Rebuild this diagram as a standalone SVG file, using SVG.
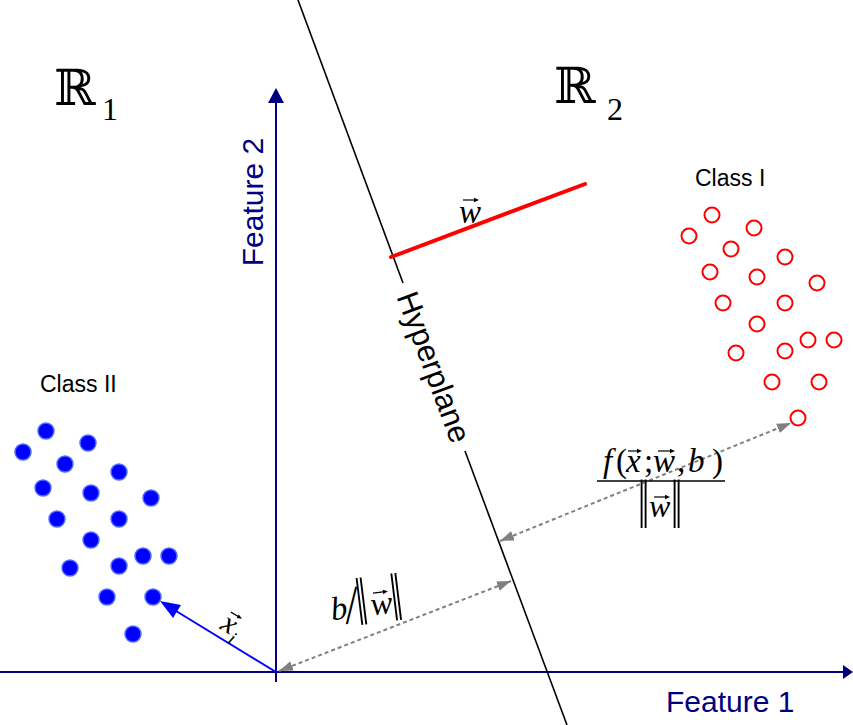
<svg xmlns="http://www.w3.org/2000/svg" width="853" height="725" viewBox="0 0 853 725">
<style>
.ax{stroke:#000080;stroke-width:2;fill:none}
.axh{fill:#000080}
.sans{font-family:"Liberation Sans",Arial,sans-serif}
.feat{font-size:30px;fill:#000080}
.cls{font-size:23px;fill:#000}
.m{font-family:"Liberation Serif","Times New Roman",serif;font-style:italic;font-size:33px;fill:#000}
.mu{font-family:"Liberation Serif","Times New Roman",serif;font-size:33px;fill:#000}
.big{font-size:40px}
.dash{stroke:#808080;stroke-width:2;stroke-dasharray:4 3;fill:none}
.bd{fill:#0000ff;stroke:#4d6bff;stroke-width:1.5}
.rd{fill:none;stroke:#ff0000;stroke-width:2}
.va{stroke:#000;stroke-width:1.2;fill:none}
.vah{fill:#000}
.hyp{stroke:#000;stroke-width:1.6;fill:none}
.ds{font-family:"DejaVu Serif","Noto Sans",serif;font-size:50px;fill:#000}
</style>
<defs>
<marker id="ga" markerUnits="userSpaceOnUse" markerWidth="16" markerHeight="12" refX="14" refY="5" orient="auto-start-reverse">
<path d="M0,0 L14,5 L0,10 z" fill="#808080"/>
</marker>
</defs>

<g id="axes">
<line class="ax" x1="0" y1="672" x2="845" y2="672"/>
<polygon class="axh" points="853,672 843,665 843,679"/>
<line class="ax" x1="276" y1="682" x2="276" y2="96"/>
<polygon class="axh" points="276,88 268,103 284,103"/>
</g>

<g id="labels" class="sans">
<text class="feat" x="666" y="712">Feature 1</text>
<text class="feat" transform="translate(263,202) rotate(-90)" text-anchor="middle">Feature 2</text>
<text class="cls" x="695" y="186">Class I</text>
<text class="cls" x="40" y="392">Class II</text>
</g>

<g id="regions">
<text class="ds" x="54" y="105">ℝ</text>
<text class="mu" style="font-size:32px" x="102" y="120">1</text>
<text class="ds" x="554" y="103">ℝ</text>
<text class="mu" style="font-size:32px" x="607" y="120">2</text>
</g>

<g id="hyperplane">
<line class="hyp" x1="298" y1="0" x2="403" y2="283"/>
<line class="hyp" x1="465" y1="451" x2="567" y2="725"/>
<text class="sans" style="font-size:31px" transform="translate(434,367) rotate(69.6)" text-anchor="middle" dy="0.35em">Hyperplane</text>
</g>

<g id="w-vector">
<line x1="391" y1="257" x2="585" y2="184" stroke="#ff0000" stroke-width="4" stroke-linecap="round"/>
<text class="m" x="459" y="223">w</text>
<path class="va" d="M463,200 h13"/><path class="vah" d="M479,200 l-5,-2.2 v4.4 z"/>
</g>

<g id="connectors">
<line class="dash" x1="279" y1="671" x2="511" y2="581" marker-start="url(#ga)" marker-end="url(#ga)"/>
<line class="dash" x1="500" y1="541" x2="791" y2="423" marker-start="url(#ga)" marker-end="url(#ga)"/>
<line x1="276" y1="672" x2="176" y2="611" stroke="#0000ff" stroke-width="2"/>
<polygon points="160,601 181,605 173,618" fill="#0000ff"/>
</g>

<g id="xi-label" transform="translate(229,625) rotate(31)">
<text class="m" style="font-size:30px" x="-7" y="8">x</text>
<text class="m" style="font-size:19px" x="7" y="16">i</text>
<path class="va" d="M-5,-12 h10"/><path class="vah" d="M8,-12 l-5,-2 v4 z"/>
</g>

<g id="b-label" transform="rotate(-7,335,620)">
<text class="m" x="332" y="620">b</text>
<text class="m big" transform="translate(347,625) scale(1,1.35)">/</text>
<text class="m big" transform="translate(358,628) scale(1,1.7)">‖</text>
<text class="m" x="372" y="620">w</text>
<path class="va" d="M376,598 h12"/><path class="vah" d="M391,598 l-5,-2.2 v4.4 z"/>
<text class="m big" transform="translate(393,628) scale(1,1.7)">‖</text>
</g>

<g id="f-label">
<text class="m" x="603" y="472">f</text>
<text class="mu" x="616" y="472">(</text>
<text class="m" x="626" y="472">x</text>
<path class="va" d="M628,451 h10"/><path class="vah" d="M642,451 l-5,-2.2 v4.4 z"/>
<text class="mu" x="644" y="472">;</text>
<text class="m" x="653" y="472">w</text>
<path class="va" d="M658,451 h13"/><path class="vah" d="M675,451 l-5,-2.2 v4.4 z"/>
<text class="mu" x="677" y="472">,</text>
<text class="m" x="688" y="472">b</text>
<text class="mu" x="712" y="472">)</text>
<line x1="597" y1="481" x2="725" y2="481" stroke="#000" stroke-width="1.5"/>
<text class="mu big" transform="translate(638,528) scale(1,1.75)">‖</text>
<text class="m" style="font-size:32px" x="649" y="517">w</text>
<path class="va" d="M654,497 h12"/><path class="vah" d="M670,497 l-5,-2.2 v4.4 z"/>
<text class="mu big" transform="translate(671,528) scale(1,1.75)">‖</text>
</g>

<g id="class-II">
<circle class="bd" cx="46" cy="431" r="8"/>
<circle class="bd" cx="23" cy="452" r="8"/>
<circle class="bd" cx="88" cy="443" r="8"/>
<circle class="bd" cx="65" cy="464" r="8"/>
<circle class="bd" cx="119" cy="472" r="8"/>
<circle class="bd" cx="43" cy="488" r="8"/>
<circle class="bd" cx="91" cy="493" r="8"/>
<circle class="bd" cx="151" cy="498" r="8"/>
<circle class="bd" cx="57" cy="519" r="8"/>
<circle class="bd" cx="119" cy="519" r="8"/>
<circle class="bd" cx="91" cy="540" r="8"/>
<circle class="bd" cx="143" cy="556" r="8"/>
<circle class="bd" cx="169" cy="556" r="8"/>
<circle class="bd" cx="70" cy="568" r="8"/>
<circle class="bd" cx="119" cy="566" r="8"/>
<circle class="bd" cx="107" cy="597" r="8"/>
<circle class="bd" cx="153" cy="597" r="8"/>
<circle class="bd" cx="133" cy="634" r="8"/>
</g>

<g id="class-I">
<circle class="rd" cx="712" cy="215" r="7.5"/>
<circle class="rd" cx="689" cy="236" r="7.5"/>
<circle class="rd" cx="754" cy="228" r="7.5"/>
<circle class="rd" cx="731" cy="249" r="7.5"/>
<circle class="rd" cx="785" cy="257" r="7.5"/>
<circle class="rd" cx="710" cy="272" r="7.5"/>
<circle class="rd" cx="757" cy="277" r="7.5"/>
<circle class="rd" cx="817" cy="283" r="7.5"/>
<circle class="rd" cx="723" cy="303" r="7.5"/>
<circle class="rd" cx="785" cy="303" r="7.5"/>
<circle class="rd" cx="757" cy="324" r="7.5"/>
<circle class="rd" cx="808" cy="340" r="7.5"/>
<circle class="rd" cx="834" cy="340" r="7.5"/>
<circle class="rd" cx="736" cy="353" r="7.5"/>
<circle class="rd" cx="785" cy="351" r="7.5"/>
<circle class="rd" cx="772" cy="382" r="7.5"/>
<circle class="rd" cx="819" cy="382" r="7.5"/>
<circle class="rd" cx="798" cy="418" r="7.5"/>
</g>
</svg>
